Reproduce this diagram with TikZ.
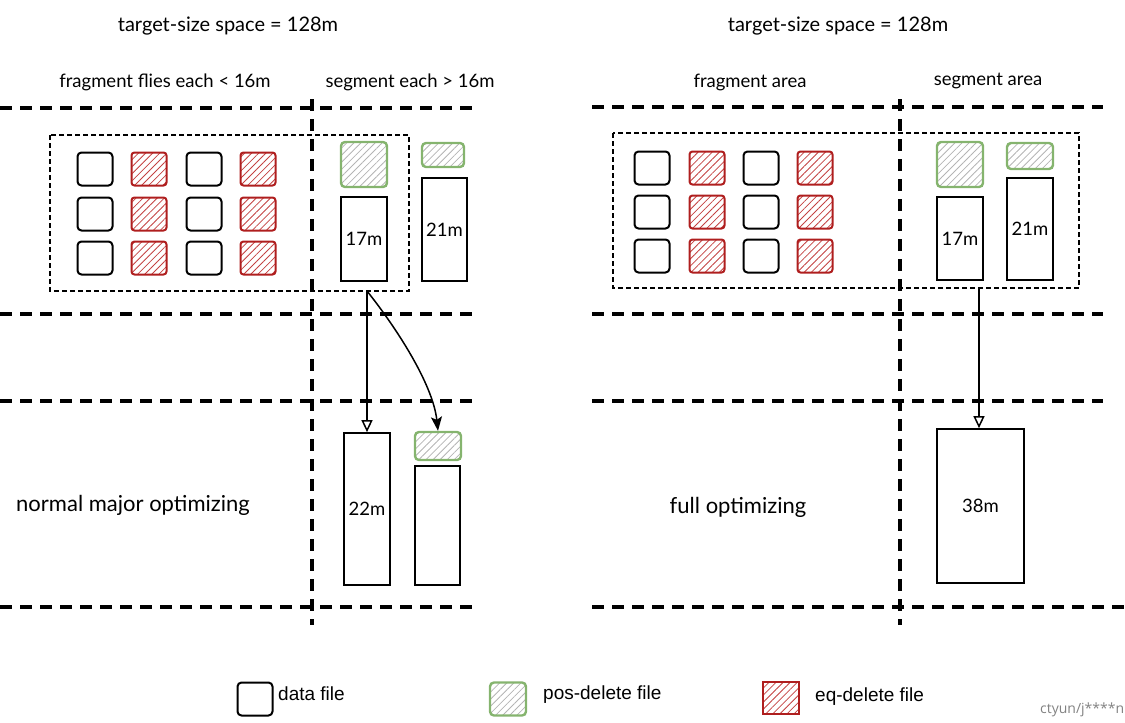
\documentclass[tikz,border=0pt]{standalone}
\usepackage{fontspec}
\setmainfont{Lato}
\newfontfamily\legendfont{Liberation Sans}
\newfontfamily\wmfont{Open Sans}
\usetikzlibrary{arrows.meta,patterns.meta}
\definecolor{eqred}{RGB}{175,30,30}
\definecolor{eqhatch}{RGB}{195,65,65}
\definecolor{posgreen}{RGB}{133,180,110}
\definecolor{poshatch}{RGB}{180,180,180}
\definecolor{wmgray}{RGB}{130,130,130}
\tikzset{
  datafile/.style={draw=black, line width=2pt, rounded corners=4pt, minimum width=35pt, minimum height=33pt, inner sep=0pt},
  eqfile/.style={draw=eqred, line width=2pt, rounded corners=3pt, minimum width=35pt, minimum height=33pt, inner sep=0pt,
    pattern={Lines[angle=45,distance=5pt,line width=0.8pt]}, pattern color=eqhatch},
  posfile/.style={draw=posgreen, line width=2.4pt, rounded corners=4pt, inner sep=0pt,
    pattern={Lines[angle=45,distance=5pt,line width=0.8pt]}, pattern color=poshatch},
  segfile/.style={draw=black, line width=1.7pt, inner sep=0pt, font=\fontsize{18.5}{20}\selectfont},
  bigdash/.style={line width=3.2pt, dash pattern=on 12pt off 8pt},
  areabox/.style={line width=1.4pt, dash pattern=on 5pt off 3pt},
  titlelab/.style={font=\fontsize{20}{24}\selectfont, inner sep=0pt},
  lab/.style={font=\fontsize{18.5}{22}\selectfont, inner sep=0pt},
  biglab/.style={font=\fontsize{22}{26}\selectfont, inner sep=0pt},
  legtext/.style={font=\legendfont\fontsize{19}{22}\selectfont, anchor=west, inner sep=0pt},
  flow/.style={line width=1.5pt},
}
\begin{document}
\begin{tikzpicture}[x=1pt,y=-1pt]
\useasboundingbox (0,0) rectangle (1125,723);

% ---------- titles ----------
\node[titlelab] (titleL) at (228,26) {target-size space = 128m};
\node[titlelab] (titleR) at (838,26) {target-size space = 128m};
\node[lab] (fragL) at (165,82) {fragment flies each < 16m};
\node[lab] (segL) at (410,82) {segment each > 16m};
\node[lab] (fragR) at (750,82) {fragment area};
\node[lab] (segR) at (988,81) {segment area};

% ---------- grid lines ----------
\foreach \yy in {108,314,401,607} {
  \draw[bigdash] (0,\yy) -- (472,\yy);
}
\foreach \yy in {107,314,401} {
  \draw[bigdash] (592,\yy) -- (1103,\yy);
}
\draw[bigdash] (592,607) -- (1125,607);
\draw[bigdash] (312,99) -- (312,625);
\draw[bigdash] (900,99) -- (900,625);

% ---------- area boxes ----------
\draw[areabox] (50,135) rectangle (409,291);
\draw[areabox] (613,133) rectangle (1079,288);

% ---------- left small files ----------
\foreach \r/\yy in {1/169,2/214,3/258} {
  \node[datafile] (la\r) at (95,\yy) {};
  \node[eqfile]   (lb\r) at (149,\yy) {};
  \node[datafile] (lc\r) at (204,\yy) {};
  \node[eqfile]   (ld\r) at (258,\yy) {};
}
% left segments
\node[posfile, minimum width=46pt, minimum height=45pt] (lpos1) at (364,164.5) {};
\node[segfile, minimum width=46pt, minimum height=84pt] (l17) at (364,239) {17m};
\node[posfile, minimum width=42pt, minimum height=24pt] (lpos2) at (443,155) {};
\node[segfile, minimum width=45pt, minimum height=103pt] (l21) at (444.5,229.5) {21m};

% left result
\node[segfile, minimum width=46pt, minimum height=152pt] (l22) at (367,509) {22m};
\node[posfile, minimum width=46pt, minimum height=28pt] (lres) at (438,446) {};
\node[segfile, minimum width=45pt, minimum height=119pt] (lempty) at (437.5,525.5) {};

\coordinate (lsrc) at (367,291);
\draw[flow, -{Triangle[open,length=12pt,width=11pt]}] (lsrc) -- (lsrc |- l22.north);
\draw[flow, -{Stealth[length=14pt,width=11pt,inset=3pt]}] (lsrc) .. controls (398,330) and (433,385) .. (lres.north);

\node[biglab] (normal) at (133,505) {normal major optimizing};

% ---------- right small files ----------
\foreach \r/\yy in {1/168,2/212,3/256} {
  \node[datafile] (ra\r) at (652,\yy) {};
  \node[eqfile]   (rb\r) at (707,\yy) {};
  \node[datafile] (rc\r) at (761,\yy) {};
  \node[eqfile]   (rd\r) at (815,\yy) {};
}
\node[posfile, minimum width=46pt, minimum height=45pt] (rpos1) at (960,164.5) {};
\node[segfile, minimum width=46pt, minimum height=83pt] (r17) at (960,238.5) {17m};
\node[posfile, minimum width=46pt, minimum height=26pt] (rpos2) at (1030,156) {};
\node[segfile, minimum width=46pt, minimum height=102pt] (r21) at (1030,229) {21m};

\node[segfile, minimum width=87pt, minimum height=154pt] (r38) at (980.5,506) {38m};
\coordinate (rsrc) at (979,288);
\draw[flow, -{Triangle[open,length=12pt,width=11pt]}] (rsrc) -- (rsrc |- r38.north);

\node[biglab] (full) at (738,507) {full optimizing};

% ---------- legend ----------
\node[datafile] (kdata) at (255,699) {};
\node[legtext] (kdatat) at (278,694) {data file};
\node[posfile, minimum width=36pt, minimum height=33pt] (kpos) at (508,699) {};
\node[legtext] (kpost) at (543,695) {pos-delete file};
\node[eqfile, rounded corners=0pt, minimum width=36pt, minimum height=32pt] (keq) at (780.5,697.5) {};
\node[legtext] (keqt) at (815,697) {eq-delete file};

\node[font=\wmfont\fontsize{14}{16}\selectfont, text=wmgray, anchor=west, inner sep=0pt] (wm) at (1040,710) {ctyun/j****n};
\end{tikzpicture}
\end{document}
